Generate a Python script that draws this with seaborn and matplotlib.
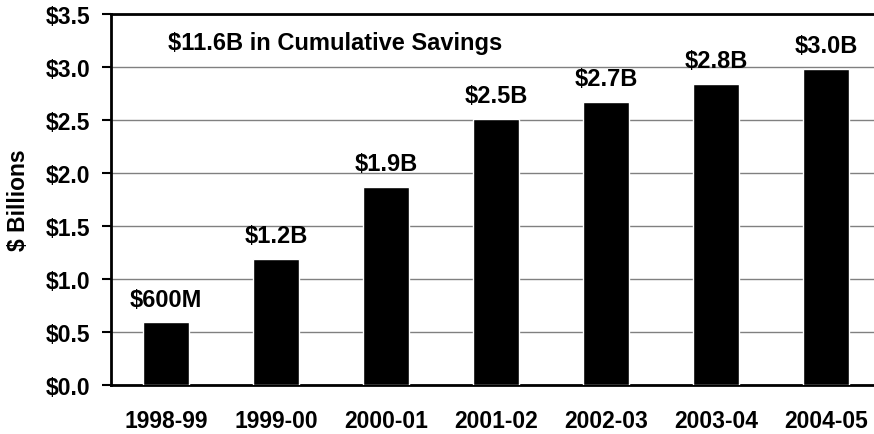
import matplotlib
matplotlib.use("Agg")
import matplotlib.pyplot as plt
import seaborn as sns
import pandas as pd

# Dados do gráfico
anos = ["1998-99", "1999-00", "2000-01", "2001-02", "2002-03", "2003-04", "2004-05"]
economia = [0.59, 1.19, 1.87, 2.51, 2.67, 2.84, 2.98]
rotulos = ["$600M", "$1.2B", "$1.9B", "$2.5B", "$2.7B", "$2.8B", "$3.0B"]
ticks_y = [0.0, 0.5, 1.0, 1.5, 2.0, 2.5, 3.0, 3.5]
titulo = "$11.6B in Cumulative Savings"

sns.set_style("white")
plt.rcParams['font.family'] = ['Liberation Sans', 'DejaVu Sans']
plt.rcParams['font.weight'] = 'bold'
for chave in ['text.color', 'axes.labelcolor', 'xtick.color', 'ytick.color']:
    plt.rcParams[chave] = 'black'

FS = 16.5   # rótulos dos eixos
FS_BAR = 17  # rótulos das barras e título

df = pd.DataFrame({'ano': anos, 'valor': economia})

fig = plt.figure(figsize=(8.74, 4.35), dpi=100)
ax = fig.add_axes([111 / 874, 1 - 386 / 435, 770 / 874, 371 / 435])

sns.barplot(data=df, x='ano', y='valor', color='black', width=0.41,
            saturation=1, ax=ax, zorder=3)

ax.set_ylim(0, 3.5)
ax.set_xlim(-0.5, len(anos) - 0.5)
ax.set_yticks(ticks_y)
ax.set_yticklabels([f"\\${t:.1f}" for t in ticks_y], fontsize=FS, fontweight='bold')
ax.yaxis.grid(True, color='#808080', linewidth=1, zorder=0)
ax.set_axisbelow(True)

# marcas do eixo x entre as categorias
ax.set_xticks(range(len(anos)))
ax.set_xticklabels(anos, fontsize=FS, fontweight='bold')
ax.set_xticks([i - 0.5 for i in range(len(anos) + 1)], minor=True)
ax.tick_params(axis='x', which='major', length=0, pad=17)
ax.tick_params(axis='x', which='minor', length=7, width=1.5, direction='out', color='black')
ax.tick_params(axis='y', length=6.5, width=1.5, direction='out', color='black', pad=8.5, left=True)

ax.set_xlabel('')
ax.set_ylabel('$ Billions', fontsize=FS, fontweight='bold', labelpad=11)

for lado in ['left', 'bottom', 'top']:
    ax.spines[lado].set_visible(True)
    ax.spines[lado].set_color('black')
    ax.spines[lado].set_linewidth(2)
ax.spines['right'].set_visible(False)

for i, (v, r) in enumerate(zip(economia, rotulos)):
    ax.annotate(r.replace('$', '\\$'), (i, v), xytext=(0, 12), textcoords='offset points',
                ha='center', va='baseline', fontsize=FS_BAR, fontweight='bold')

ax.text(0.074, 0.924, titulo.replace('$', '\\$'), transform=ax.transAxes,
        ha='left', va='center', fontsize=FS_BAR, fontweight='bold')

fig.savefig('out.png', dpi=100)
